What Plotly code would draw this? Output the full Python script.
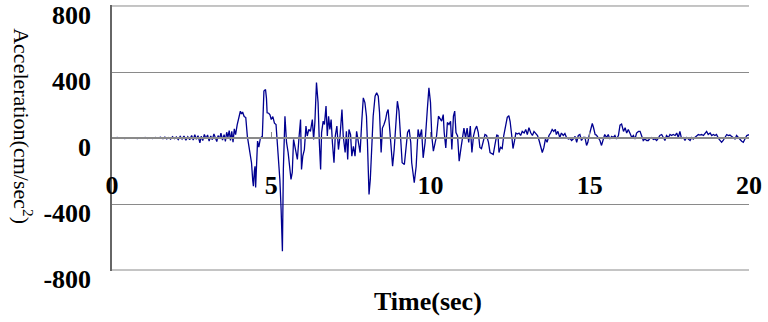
import plotly.graph_objects as go

# ---- data ----
time_s = [
    0.00, 0.08, 0.16, 0.24, 0.32, 0.40, 0.48, 0.56, 0.64, 0.72, 0.80, 0.88, 0.96, 1.04, 1.12, 1.20, 1.28, 1.36, 1.44, 1.52, 1.60,
    1.66, 1.72, 1.78, 1.84, 1.90, 1.96, 2.02, 2.08, 2.14, 2.20, 2.26, 2.32, 2.38, 2.44,
    2.50, 2.55, 2.60, 2.65, 2.70, 2.76, 2.80, 2.85, 2.90, 2.95, 3.00, 3.05, 3.10, 3.15, 3.20, 3.25, 3.29, 3.33, 3.38, 3.42,
    3.47, 3.52, 3.56, 3.60, 3.64, 3.68, 3.72, 3.76, 3.80, 3.84, 3.88,
    3.93, 3.98, 4.03, 4.07, 4.10, 4.15, 4.20, 4.25, 4.30, 4.35, 4.38, 4.42, 4.44, 4.47, 4.49, 4.51, 4.53, 4.57, 4.61, 4.66,
    4.72, 4.75, 4.77, 4.82, 4.85, 4.87, 4.92, 4.96, 5.00, 5.05, 5.10, 5.15, 5.22, 5.27, 5.31, 5.35, 5.38, 5.43,
    5.48, 5.53, 5.62, 5.66, 5.70, 5.75, 5.82, 5.87, 5.92, 5.95, 5.99, 6.04, 6.09, 6.13, 6.18, 6.23, 6.29, 6.33, 6.37, 6.42,
    6.47, 6.51, 6.55, 6.58, 6.63, 6.67, 6.72, 6.76, 6.80, 6.84, 6.88, 6.92, 6.97, 7.01, 7.06, 7.11, 7.16, 7.22, 7.26, 7.32,
    7.36, 7.40, 7.44, 7.49, 7.53, 7.58, 7.63, 7.68, 7.74, 7.79, 7.84, 7.89, 7.94, 7.99, 8.02, 8.07, 8.11, 8.15, 8.20, 8.26,
    8.31, 8.36, 8.40, 8.45, 8.49, 8.54, 8.59, 8.63, 8.67, 8.72, 8.76, 8.81, 8.86, 8.91, 8.96, 9.01, 9.06, 9.11, 9.18, 9.23,
    9.28, 9.33, 9.38, 9.41, 9.44, 9.49, 9.55, 9.61, 9.66, 9.72, 9.77, 9.83, 9.90, 9.95, 10.00, 10.04, 10.09, 10.14, 10.19,
    10.25, 10.30, 10.35, 10.40, 10.43, 10.48, 10.53, 10.58, 10.63, 10.67, 10.72, 10.76, 10.80, 10.85, 10.90, 10.95, 11.00,
    11.05, 11.10, 11.15, 11.20, 11.25, 11.30, 11.35, 11.40, 11.45, 11.50,
    11.55, 11.60, 11.66, 11.71, 11.76, 11.82, 11.87, 11.92, 11.97, 12.02, 12.08, 12.12, 12.15, 12.20, 12.25, 12.30, 12.36,
    12.41, 12.46, 12.50, 12.55, 12.59, 12.64, 12.68, 12.73, 12.78, 12.83, 12.88, 12.94, 12.99, 13.04, 13.09, 13.15, 13.20,
    13.25, 13.30, 13.36, 13.41, 13.46, 13.51, 13.56, 13.61, 13.66, 13.72, 13.77, 13.82, 13.87,
    13.92, 13.95, 14.00, 14.06, 14.11, 14.17, 14.22, 14.27, 14.33, 14.38, 14.43, 14.48, 14.54, 14.59, 14.64, 14.69, 14.74,
    14.80, 14.85, 14.90, 14.94, 14.98, 15.03, 15.08, 15.12, 15.17, 15.21, 15.26, 15.32, 15.37, 15.42, 15.47, 15.53, 15.58,
    15.63, 15.69, 15.74, 15.79, 15.84, 15.90, 15.95, 16.00, 16.06, 16.11, 16.16, 16.21, 16.26, 16.32, 16.37, 16.42, 16.47,
    16.53, 16.58, 16.63, 16.68, 16.73, 16.79,
    16.84, 16.89, 16.94, 17.00, 17.05, 17.10, 17.15, 17.20, 17.26, 17.31, 17.36, 17.41, 17.47, 17.52, 17.57, 17.62, 17.68,
    17.73, 17.78, 17.83, 17.88, 17.94, 17.99, 18.04, 18.09, 18.15, 18.20, 18.25, 18.30, 18.36, 18.41, 18.46, 18.51, 18.57,
    18.62, 18.67, 18.72, 18.78, 18.83, 18.88, 18.93, 18.98, 19.04, 19.09, 19.14, 19.19, 19.25, 19.30, 19.35, 19.40, 19.45,
    19.51, 19.56, 19.61, 19.66, 19.72, 19.77, 19.82, 19.88, 19.93, 20.00,
]

acceleration = [
    0, -2, 3, -1, 2, -3, 1, -2, 2, -1, -3, 2, -2, 3, -4, 2, -3, 4, -2, 5, -4,
    6, -5, 3, -7, 8, -4, 6, -9, 10, -6, 12, -14, 8, -10,
    15, -12, 20, -8, 14, -29, 10, -15, 22, -5, 18, -18, 12, -10, 25, -8, -22, 15, -5, 30,
    -12, 20, -20, 35, 5, 45, -15, 40, -25, 55, 20,
    80, 130, 162, 145, 158, 130, 124, 10, -60, -140, -150, -260, -292, -200, -171, -300, -150, -19, -55, 0,
    10, 150, 284, 294, 240, 153, 150, 141, 112, 130, 90, 82, -88, -251, -433, -686, -191, 132,
    -27, -88, -251, -209, -9, -70, -130, 0, 112, -191, -110, -70, 72, 12, 52, 40, 112, -9, 94, 336,
    215, -27, -191, 33, 102, 82, 193, 12, 132, 52, 112, -27, -150, 12, 72, -70, 12, 173, 12, -88,
    40, -130, 52, 20, -110, -50, -110, 40, -20, -88, 94, 243, 215, 132, -27, -342, -251, -70, 132, 253,
    274, 253, 153, -88, 60, 82, 112, 153, 173, 52, -50, -171, -70, 112, 223, 163, 12, -150, -160, -70,
    33, 52, -27, -150, -200, -271, -171, 52, 0, 52, -120, -27, 173, 304, 215, 12, -80, -40, 12,
    132, 112, 102, 142, 33, -60, 94, 82, 102, -70, 132, 163, 33, 12, -140, -70, 0,
    60, 0, 60, -27, 72, -88, 12, 52, 72, 33,
    -57, -64, -6, 21, 15, -26, -88, -95, -100, -45, 18, 15, -88, -57, -64, 15, 75,
    125, 135, 100, 15, -64, -15, 30, 24, 30, 15, 40, 30, 52, 21, 62, 30, 15,
    40, 30, 15, -15, -45, -88, -57, -6, -26, 15, 30, 52, 40,
    52, 21, 40, 3, 30, 15, 27, 3, -6, -2, -15, -6, 10, -26, 15, 21, -15,
    3, 3, -45, -26, 15, 52, 88, 62, 21, 18, 3, -15, -45, -15, 21, 3, 21,
    -6, 10, 3, 15, -6, 15, 78, 85, 40, 62, 30, 52, 30, 3, 15, -6, 30,
    40, 40, 15, -15, -6, -15,
    -15, -2, 3, -9, -6, -15, -2, 15, 21, 3, -15, 15, 3, 21, 15, 21, 15,
    30, 3, 40, -2, 3, -15, 3, -6, -15, 3, -6, 3, 15, 21, 18, 21, 15,
    30, 40, 21, 30, 15, 21, 15, 21, -2, -15, -26, -15, 10, 21, 15, 18, 10,
    3, -6, 15, 3, -15, -20, -26, -6, 15, 20,
]

y_tick_values = [-800, -400, 0, 400, 800]
y_tick_labels = ["-800", "-400", "0", "400", "800"]
x_tick_values = [0, 5, 10, 15, 20]
x_tick_labels = ["0", "5", "10", "15", "20"]

FONT = "Liberation Serif"
GRID = "#8a8a8a"

fig = go.Figure()
fig.add_trace(go.Scatter(
    x=time_s, y=acceleration, mode="lines",
    line=dict(color="#000090", width=1.3),
    showlegend=False, hoverinfo="skip",
))

# gridlines at the range ends (plotly omits grid lines on the plot edges)
for yv in (y_tick_values[0], y_tick_values[-1]):
    fig.add_shape(type="line", xref="paper", yref="y", x0=0, x1=1, y0=yv, y1=yv,
                  line=dict(color=GRID, width=1), layer="below")

fig.update_layout(
    width=768, height=322,
    margin=dict(l=112, r=19, t=5, b=51),
    paper_bgcolor="white", plot_bgcolor="white",
    font=dict(family=FONT, color="black"),
    xaxis=dict(
        range=[0, 20], tickvals=x_tick_values, ticktext=x_tick_labels,
        anchor="free", position=0.5, automargin=False,
        showgrid=False, zeroline=False,
        showline=True, linecolor=GRID, linewidth=1.5,
        ticks="inside", ticklen=5, tickcolor=GRID, tickwidth=1,
        tickfont=dict(family=FONT, size=26, color="black", weight="bold"),
        ticklabelstandoff=24,
    ),
    yaxis=dict(
        range=[-806, 806], tickvals=y_tick_values, ticktext=y_tick_labels,
        automargin=False,
        showgrid=True, gridcolor=GRID, gridwidth=1,
        zeroline=False,
        showline=True, linecolor="#666666", linewidth=1.5,
        ticks="", tickfont=dict(family=FONT, size=26, color="black", weight="bold"),
        ticklabelstandoff=14, ticklabelshift=9,
    ),
    annotations=[
        dict(text="Acceleration(cm/sec<sup>2</sup>)", textangle=90,
             xref="paper", yref="paper", x=-0.14, y=0.545,
             xanchor="center", yanchor="middle", showarrow=False,
             font=dict(family=FONT, size=22, color="black")),
        dict(text="Time(sec)",
             xref="paper", yref="paper", x=0.496, y=-0.115,
             xanchor="center", yanchor="middle", showarrow=False,
             font=dict(family=FONT, size=26, color="black", weight="bold")),
    ],
)

fig.write_html("out.html", config={"displayModeBar": False},
               post_script="document.body.style.margin='0';")
